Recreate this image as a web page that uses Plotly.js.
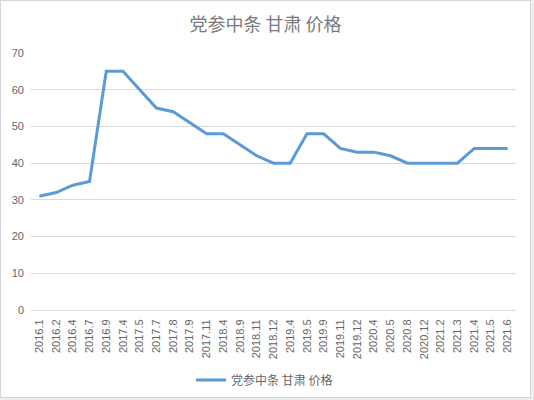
<!DOCTYPE html>
<html>
<head>
<meta charset="utf-8">
<script src="https://cdn.plot.ly/plotly-3.0.1.min.js"></script>
<style>
html,body{margin:0;padding:0;background:#eeeeee;width:534px;height:400px;overflow:hidden;}
#frame{position:absolute;left:0;top:0;width:531px;height:398px;box-sizing:border-box;border:1px solid #d6d6d6;background:#fff;}
#chart{width:529px;height:396px;}
</style>
</head>
<body>
<div id="frame"><div id="chart"></div></div>
<script>
var categories = ["2016.1","2016.2","2016.4","2016.7","2016.9","2017.4","2017.5","2017.7","2017.8","2017.9","2017.11","2018.4","2018.9","2018.11","2018.12","2019.4","2019.5","2019.9","2019.11","2019.12","2020.4","2020.5","2020.8","2020.12","2021.2","2021.3","2021.4","2021.5","2021.6"];
var prices = [31,32,34,35,65,65,60,55,54,51,48,48,45,42,40,40,48,48,44,43,43,42,40,40,40,40,44,44,44];
var seriesName = "党参中条 甘肃 价格";
var chartTitle = "党参中条 甘肃 价格";
var yTicks = [0,10,20,30,40,50,60,70];

var font = '"Liberation Sans","Noto Sans CJK SC",sans-serif';
var cjk = '"Noto Sans CJK SC","Liberation Sans",sans-serif';

Plotly.newPlot('chart', [{
  x: categories,
  y: prices,
  type: 'scatter',
  mode: 'lines',
  name: seriesName,
  line: {color: '#5b9bd5', width: 3},
  showlegend: true
}], {
  width: 529, height: 396,
  margin: {l: 30, r: 14, t: 52, b: 87, autoexpand: false},
  paper_bgcolor: '#ffffff',
  plot_bgcolor: '#ffffff',
  title: {text: chartTitle, x: 0.5, xanchor: 'center', y: 0.939, yref: 'container', yanchor: 'middle',
          font: {family: cjk, size: 18, color: '#7a7a7a'}},
  xaxis: {
    type: 'category',
    range: [-0.5, categories.length - 0.5],
    tickangle: -90,
    tickfont: {family: font, size: 11, color: '#666666'},
    showgrid: false,
    showline: true, linecolor: '#d9d9d9', linewidth: 1,
    ticks: '', ticklabelstandoff: 4,
    automargin: false,
    fixedrange: true
  },
  yaxis: {
    range: [0, 70],
    tickvals: yTicks,
    tickfont: {family: font, size: 11, color: '#666666'},
    showgrid: true, gridcolor: '#d9d9d9', gridwidth: 1,
    zeroline: false, showline: false,
    ticks: '', ticklabelstandoff: 6,
    automargin: false,
    fixedrange: true
  },
  legend: {orientation: 'h', x: 0.33, xanchor: 'left', y: 0.043, yref: 'container', yanchor: 'middle',
           font: {family: cjk, size: 12, color: '#666666'}, bgcolor: 'rgba(0,0,0,0)'},
  showlegend: true
}, {displayModeBar: false, staticPlot: true});
</script>
</body>
</html>
